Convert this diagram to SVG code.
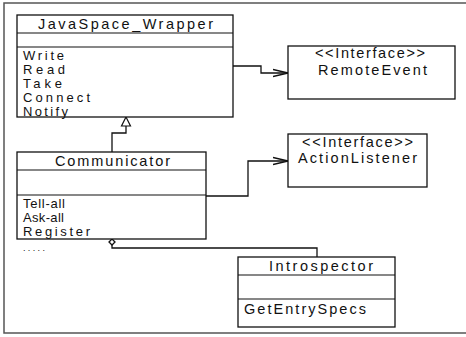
<svg xmlns="http://www.w3.org/2000/svg" width="466" height="337" viewBox="0 0 466 337">
<style>
.box{fill:#fff;stroke:#111;stroke-width:1.3}
.div{stroke:#111;stroke-width:1.2}
.t{font-family:"Liberation Sans",Arial,sans-serif;font-size:14.5px;fill:#111}
.m{font-family:"Liberation Sans",Arial,sans-serif;font-size:13px;fill:#111}
.conn{fill:none;stroke:#111;stroke-width:1.3}
.frame{fill:none;stroke:#555;stroke-width:1.5}
</style>
<defs>
<marker id="open" markerWidth="16" markerHeight="10" refX="15" refY="5" orient="auto" markerUnits="userSpaceOnUse">
<path d="M0,1.5 L15,5 L0,8.5" fill="none" stroke="#111" stroke-width="1.3"/>
</marker>
</defs>
<path class="frame" d="M466,3 H4 V333 H466"/>
<g id="connectors">
<path class="conn" d="M233,66 H261 V73 H288" marker-end="url(#open)"/>
<path class="conn" d="M206,196 H248 V161 H288" marker-end="url(#open)"/>
<path class="conn" d="M112,152 V133 H126 V126"/>
<polygon points="126,117 121.5,126 130.5,126" fill="#fff" stroke="#111" stroke-width="1.2"/>
<path class="conn" d="M112,245 V248 H317 V257"/>
<polygon points="112,239 115,242 112,245 109,242" fill="#fff" stroke="#111" stroke-width="1.3"/>
</g>
<g id="JavaSpace_Wrapper">
<rect class="box" x="17" y="15" width="216" height="102"/>
<line class="div" x1="17" y1="33" x2="233" y2="33"/>
<line class="div" x1="17" y1="47" x2="233" y2="47"/>
<text class="t" x="38" y="29" textLength="175" lengthAdjust="spacing">JavaSpace_Wrapper</text>
<text class="m" x="23" y="60" textLength="41" lengthAdjust="spacing">Write</text>
<text class="m" x="23" y="74" textLength="42" lengthAdjust="spacing">Read</text>
<text class="m" x="23" y="88" textLength="39" lengthAdjust="spacing">Take</text>
<text class="m" x="23" y="102" textLength="67" lengthAdjust="spacing">Connect</text>
<text class="m" x="23" y="116" textLength="45" lengthAdjust="spacing">Notify</text>
</g>
<g id="Communicator">
<rect class="box" x="17" y="152" width="189" height="87"/>
<line class="div" x1="17" y1="170" x2="206" y2="170"/>
<line class="div" x1="17" y1="195" x2="206" y2="195"/>
<text class="t" x="55" y="166" textLength="115" lengthAdjust="spacing">Communicator</text>
<text class="m" x="23" y="208" textLength="42" lengthAdjust="spacing">Tell-all</text>
<text class="m" x="23" y="222" textLength="41" lengthAdjust="spacing">Ask-all</text>
<text class="m" x="23" y="236" textLength="67" lengthAdjust="spacing">Register</text>
<text class="m" x="23" y="251" textLength="22" lengthAdjust="spacing" style="font-size:9px">.....</text>
</g>
<g id="RemoteEvent">
<rect class="box" x="288" y="46" width="167" height="53"/>
<text class="t" x="315" y="58" textLength="110" lengthAdjust="spacing">&lt;&lt;Interface&gt;&gt;</text>
<text class="t" x="318" y="75" textLength="109" lengthAdjust="spacing">RemoteEvent</text>
</g>
<g id="ActionListener">
<rect class="box" x="288" y="134" width="139" height="53"/>
<text class="t" x="302" y="147" textLength="111" lengthAdjust="spacing">&lt;&lt;Interface&gt;&gt;</text>
<text class="t" x="298" y="163" textLength="119" lengthAdjust="spacing">ActionListener</text>
</g>
<g id="Introspector">
<rect class="box" x="238" y="257" width="157" height="70"/>
<line class="div" x1="238" y1="275" x2="395" y2="275"/>
<line class="div" x1="238" y1="299" x2="395" y2="299"/>
<text class="t" x="269" y="271" textLength="104" lengthAdjust="spacing">Introspector</text>
<text class="t" x="244" y="314" textLength="122" lengthAdjust="spacing">GetEntrySpecs</text>
</g>
</svg>
